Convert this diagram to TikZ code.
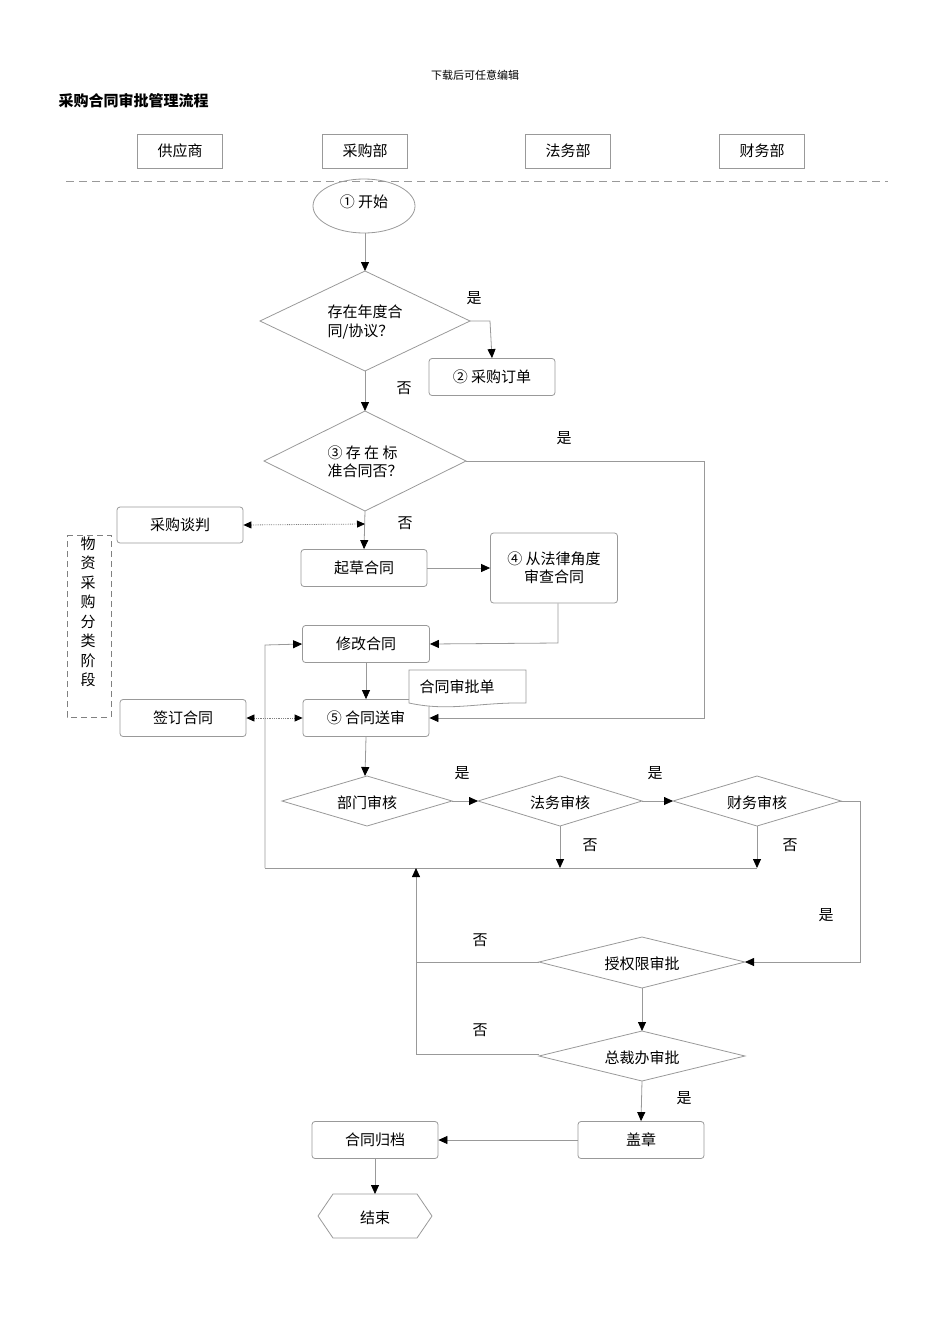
\documentclass[tikz,border=0pt]{standalone}
\usepackage{fontspec}
\setmainfont{Noto Sans CJK SC}
\usetikzlibrary{arrows.meta,shapes.geometric}
\begin{document}
\begin{tikzpicture}[x=1pt,y=-1pt,
  font=\fontsize{15}{18}\selectfont,
  ln/.style={draw=black!40, line width=0.8pt},
  arr/.style={ln, -{Triangle[length=9pt,width=8pt,color=black]}},
  darr/.style={draw=black!50, densely dotted, line width=0.8pt, {Triangle[length=8pt,width=7pt,color=black]}-{Triangle[length=8pt,width=7pt,color=black]}},
  boxs/.style={ln, rounded corners=3pt},
  lab/.style={font=\fontsize{15}{18}\selectfont}]
\useasboundingbox (0,0) rectangle (950,1344);
\node (hdr) at (475,75) {\fontsize{11}{13}\selectfont 下载后可任意编辑};
\node[anchor=west] (title) at (55,101) {\fontsize{15}{18}\selectfont\bfseries 采购合同审批管理流程};
% lanes
\foreach \n/\x/\t in {l1/180/供应商,l2/365/采购部,l3/568/法务部,l4/762/财务部}
  \node[draw=black!40, minimum width=85pt, minimum height=34pt] (\n) at (\x,151) {\t};
\draw[black!40, dash pattern=on 8pt off 5pt, line width=0.8pt] (66,181) -- (888,181);
% start
\node[ln, ellipse, minimum width=102pt, minimum height=54pt, inner sep=0] (start) at (364,206) {};
\node (startt) at (364,202) {① 开始};
% diamond 1
\draw[ln] (260,321) -- (365,271) -- (470,321) -- (365,371) -- cycle;
\coordinate (d1l) at (260,321); \coordinate (d1r) at (470,321);
\coordinate (d1t) at (365,271); \coordinate (d1b) at (365,371);
\node[align=left] (d1t1) at (365,322) {存在年度合\\同/协议？};
\node[boxs, minimum width=126pt, minimum height=37pt] (order) at (492,377) {② 采购订单};
\draw[arr] (365,233) -- (d1t);
\draw[arr] (d1r) -- (490,321) -- (order.north);
\node (y1) at (474,298) {是};
% diamond 2
\draw[ln] (264,461) -- (365,411) -- (466,461) -- (365,511) -- cycle;
\coordinate (d2r) at (466,461); \coordinate (d2t) at (365,411); \coordinate (d2b) at (365,511);
\node[align=left] (d2txt) at (365,462) {③ 存 在 标\\准合同否？};
\draw[arr] (d1b) -- (d2t);
\node (n1) at (404,388) {否};
% boxes
\node[boxs, minimum width=126pt, minimum height=36pt] (nego) at (180,525) {采购谈判};
\node[boxs, minimum width=126pt, minimum height=37pt] (draft) at (364,568) {起草合同};
\node[boxs, minimum width=127pt, minimum height=70pt, align=center] (legal) at (554,568) {④ 从法律角度\\审查合同};
\node[boxs, minimum width=127pt, minimum height=37pt] (modify) at (366,644) {修改合同};
\node[boxs, minimum width=126pt, minimum height=37pt] (send) at (366,718) {⑤ 合同送审};
\node[boxs, minimum width=126pt, minimum height=37pt] (sign) at (183,718) {签订合同};
\draw[arr] (d2b) -- (draft.north);
\node (n2) at (405,523) {否};
\coordinate (negoend) at (365,524);
\draw[darr] (nego.east) -- (negoend);
\draw[arr] (draft.east) -- (legal.west |- draft.east);
\draw[arr] (legal.south -| 558,0) -- (558,643) -- (modify.east);
\draw[arr] (d2r) -- (704,461) -- (704,718) -- (send.east);
\node (y2) at (564,438) {是};
\draw[arr] (modify.south) -- (send.north);
\draw[darr] (sign.east) -- (send.west);
% note
\draw[ln, fill=white] (409,670) -- (526,670) -- (526,703) .. controls (480,702) and (450,712) .. (409,703) -- cycle;
\node (note) at (457,687) {合同审批单};
% bracket
\draw[black!50, dash pattern=on 6pt off 4pt, line width=0.7pt] (67,535) -- (111,535) -- (111,717) -- (67,717) -- cycle;
\node[align=center, inner sep=0, font=\fontsize{15}{19.5}\selectfont] (stage) at (88,612) {物\\资\\采\\购\\分\\类\\阶\\段};
% review diamonds
\foreach \n/\x/\hw/\t in {dept/367/85/部门审核,law/560/82/法务审核,fin/757/84/财务审核}{
  \draw[ln] (\x-\hw,801) -- (\x,776) -- (\x+\hw,801) -- (\x,826) -- cycle;
  \node (\n) at (\x,803) {\t};
}
\draw[arr] (send.south) -- (365,776);
\draw[arr] (452,801) -- (478,801);
\draw[arr] (642,801) -- (673,801);
\node (y3) at (462,773) {是};
\node (y4) at (655,773) {是};
\draw[arr] (560,826) -- (560,868);
\draw[arr] (757,826) -- (757,868);
\node (n3) at (590,845) {否};
\node (n4) at (790,845) {否};
\draw[ln] (757,868) -- (265,868);
\draw[arr] (265,868) -- (265,645) -- (modify.west);
% authorization
\draw[ln] (539,962) -- (642,937) -- (745,962) -- (642,988) -- cycle;
\node (auth) at (642,964) {授权限审批};
\draw[ln] (539,1056) -- (642,1031) -- (745,1056) -- (642,1081) -- cycle;
\node (ceo) at (642,1058) {总裁办审批};
\draw[arr] (840,801) -- (860,801) -- (860,962) -- (745,962);
\node (y5) at (826,915) {是};
\draw[arr] (539,962) -- (416,962) -- (416,868);
\node (n5) at (480,940) {否};
\draw[arr] (642,988) -- (642,1031);
\draw[ln] (539,1054) -- (416,1054) -- (416,962);
\node (n6) at (480,1030) {否};
\node[boxs, minimum width=126pt, minimum height=37pt] (seal) at (641,1140) {盖章};
\node[boxs, minimum width=126pt, minimum height=37pt] (arch) at (375,1140) {合同归档};
\draw[arr] (642,1081) -- (seal.north);
\node (y6) at (684,1098) {是};
\draw[arr] (seal.west) -- (arch.east);
\draw[ln] (318,1216) -- (333,1194) -- (417,1194) -- (432,1216) -- (417,1238) -- (333,1238) -- cycle;
\node (end) at (375,1218) {结束};
\draw[arr] (arch.south) -- (375,1194);
\end{tikzpicture}
\end{document}
